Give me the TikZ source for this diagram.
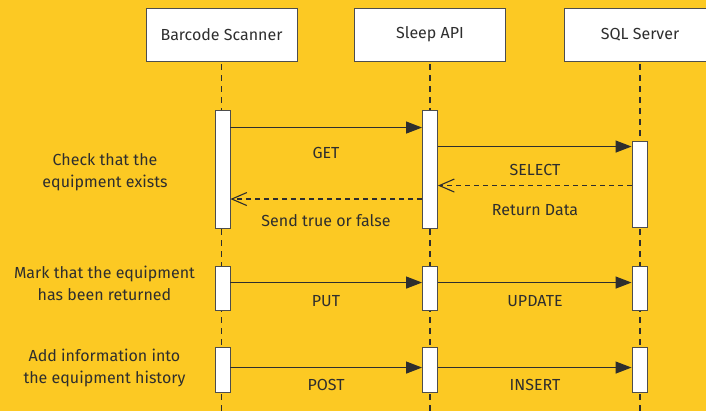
\documentclass[tikz,border=0pt]{standalone}
\usepackage{fontspec}
\setmainfont{Fira Sans}
\usetikzlibrary{arrows.meta}
\definecolor{bgyellow}{HTML}{FCC923}
\definecolor{ink}{HTML}{2E2E2E}

\begin{document}
\begin{tikzpicture}[x=1pt,y=-1pt,
  every node/.style={font=\fontsize{16}{22}\selectfont, text=ink},
  actor/.style={draw=ink!85, fill=white, line width=0.9pt, minimum width=151pt, minimum height=53pt},
  act/.style={draw=ink!85, fill=white, line width=0.9pt, minimum width=15pt, inner sep=0pt},
  life/.style={draw=ink, line width=1.1pt, dash pattern=on 6pt off 5pt},
  call/.style={draw=ink, line width=1.2pt, -{Triangle[length=16pt,width=12pt]}},
  reply/.style={draw=ink, line width=1.1pt, dash pattern=on 5pt off 4pt, -{Straight Barb[length=15pt,width=13pt]}},
  note/.style={align=center}]

%BACKGROUND
\useasboundingbox (0,0) rectangle (706,411);
\fill[bgyellow] (0,0) rectangle (706,411);
\clip (0,0) rectangle (706,411);

%ACTORS
\node[actor] (scanner) at (221.5,34.5) {Barcode Scanner};
\node[actor] (api) at (430,34.5) {Sleep API};
\node[actor] (sql) at (640,34.5) {SQL Server};

% lifelines
\draw[life] ([yshift=-3pt]scanner.south) -- (scanner.south |- 0,411);
\draw[life] ([yshift=-3pt]api.south) -- (api.south |- 0,411);
\draw[life] ([yshift=-3pt]sql.south) -- (sql.south |- 0,411);

%ACTIVATIONS
% check
\node[act, minimum height=118pt] (sc1) at (222.5,169) {};
\node[act, minimum height=118pt] (ap1) at (430,169) {};
\node[act, minimum height=86pt] (sq1) at (639.5,184) {};
% mark
\node[act, minimum height=44pt] (sc2) at (222.5,288) {};
\node[act, minimum height=44pt] (ap2) at (430,288) {};
\node[act, minimum height=44pt] (sq2) at (639.5,288) {};
% add
\node[act, minimum height=45pt] (sc3) at (222.5,369.5) {};
\node[act, minimum height=45pt] (ap3) at (430,369.5) {};
\node[act, minimum height=45pt] (sq3) at (639.5,369.5) {};

%MESSAGES
\draw[call] ([yshift=-18pt]sc1.north east) -- ([yshift=-18pt]ap1.north west);
\draw[call] ([yshift=-37pt]ap1.north east) -- ([yshift=-6pt]sq1.north west);
\draw[reply] ([yshift=-45pt]sq1.north west) -- ([yshift=-76pt]ap1.north east);
\draw[reply] ([yshift=-89.5pt]ap1.north west) -- ([yshift=-89.5pt]sc1.north east);

\draw[call] ([yshift=-17pt]sc2.north east) -- ([yshift=-17pt]ap2.north west);
\draw[call] ([yshift=-17pt]ap2.north east) -- ([yshift=-17pt]sq2.north west);

\draw[call] ([yshift=-21pt]sc3.north east) -- ([yshift=-21pt]ap3.north west);
\draw[call] ([yshift=-21pt]ap3.north east) -- ([yshift=-21pt]sq3.north west);

% labels
\node (lget) at (326,153) {GET};
\node (lselect) at (535,170) {SELECT};
\node (lreturn) at (535,210) {Return Data};
\node (lsend) at (326,221) {Send true or false};
\node (lput) at (326,301) {PUT};
\node (lupdate) at (535,301) {UPDATE};
\node (lpost) at (326,385) {POST};
\node (linsert) at (535,385) {INSERT};

%NOTES
\node[note] (ncheck) at (105,172.5) {Check that the\\equipment exists};
\node[note] (nmark) at (104.5,283) {Mark that the equipment\\has been returned};
\node[note] (nadd) at (104.5,368) {Add information into\\the equipment history};

\end{tikzpicture}
\end{document}
